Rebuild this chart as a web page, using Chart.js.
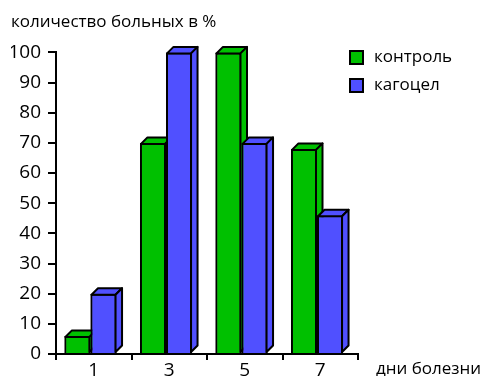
<!DOCTYPE html>
<html>
<head>
<meta charset="utf-8">
<script src="https://cdn.jsdelivr.net/npm/chart.js@4"></script>
<style>
  html, body { margin: 0; padding: 0; background: #fff; }
  #wrap { width: 486px; height: 376px; }
</style>
</head>
<body>
<div id="wrap"><canvas id="c" width="486" height="376"></canvas></div>
<script>
// data
const days = ['1', '3', '5', '7'];
const control = [6, 70, 100, 68];
const kagocel = [20, 100, 70, 46];
const seriesNames = ['контроль', 'кагоцел'];
const yTitle = 'количество больных в %';
const xTitle = 'дни болезни';

const FONT = 'Open Sans';
const DX = 6.5, DY = 6.5; // 3d depth

// shift bars left by half depth, then redraw each series with top + side faces
const bars3d = {
  id: 'bars3d',
  afterDatasetsUpdate(chart) {
    chart.data.datasets.forEach((ds, i) => {
      chart.getDatasetMeta(i).data.forEach(el => { el.x -= DX / 2; });
    });
  },
  afterDatasetsDraw(chart) {
    const ctx = chart.ctx;
    chart.data.datasets.forEach((ds, i) => {
      const meta = chart.getDatasetMeta(i);
      meta.data.forEach(el => {
        el.draw(ctx);
        const l = el.x - el.width / 2 + 1, r = el.x + el.width / 2 - 1;
        const t = el.y + 1, b = el.base - 1;
        ctx.save();
        ctx.lineWidth = 2;
        ctx.strokeStyle = '#000';
        ctx.lineJoin = 'round';
        ctx.fillStyle = ds.backgroundColor;
        ctx.beginPath();
        ctx.moveTo(l, t); ctx.lineTo(l + DX, t - DY); ctx.lineTo(r + DX, t - DY); ctx.lineTo(r, t);
        ctx.closePath(); ctx.fill(); ctx.stroke();
        ctx.beginPath();
        ctx.moveTo(r, t); ctx.lineTo(r + DX, t - DY); ctx.lineTo(r + DX, b - DY); ctx.lineTo(r, b);
        ctx.closePath(); ctx.fill(); ctx.stroke();
        ctx.restore();
      });
    });
  },
  afterDraw(chart) {
    const ctx = chart.ctx;
    const area = chart.chartArea;
    ctx.save();
    ctx.font = '17px "' + FONT + '"';
    ctx.textBaseline = 'middle';
    // legend
    chart.data.datasets.forEach((ds, i) => {
      const y = 50 + i * 28;
      ctx.fillStyle = ds.backgroundColor;
      ctx.fillRect(349, y, 15, 15);
      ctx.lineWidth = 2;
      ctx.strokeStyle = '#000';
      ctx.strokeRect(350, y + 1, 13, 13);
      ctx.fillStyle = '#000';
      ctx.fillText(ds.label, 374, y + 7);
    });
    // x axis title
    ctx.fillText(xTitle, area.right + 18, 369);
    ctx.restore();
  }
};

new Chart(document.getElementById('c'), {
  type: 'bar',
  data: {
    labels: days,
    datasets: [
      { label: seriesNames[0], data: control, backgroundColor: '#00c000', borderColor: '#000', borderWidth: 2 },
      { label: seriesNames[1], data: kagocel, backgroundColor: '#5050ff', borderColor: '#000', borderWidth: 2 }
    ]
  },
  options: {
    responsive: false,
    animation: false,
    categoryPercentage: 0.69,
    barPercentage: 1,
    layout: { padding: { left: 11, right: 128, top: 0, bottom: 0 } },
    plugins: {
      legend: { display: false },
      tooltip: { enabled: false },
      title: { display: true, text: yTitle, align: 'start', color: '#000', font: { family: FONT, size: 17, weight: 'normal' }, padding: { top: 12, bottom: 20 } }
    },
    scales: {
      x: {
        afterFit: s => { s.height = 22; },
        border: { color: '#000', width: 2 },
        grid: { drawOnChartArea: false, drawTicks: true, tickLength: 6, color: '#000', lineWidth: 2 },
        ticks: { color: '#000', padding: 3, font: { family: FONT, size: 19, lineHeight: 0.8 } }
      },
      y: {
        min: 0, max: 100,
        afterFit: s => { s.width = 45; },
        border: { color: '#000', width: 2 },
        grid: { drawOnChartArea: false, drawTicks: true, tickLength: 8, color: '#000', lineWidth: 2 },
        ticks: { stepSize: 10, color: '#000', padding: 7, font: { family: FONT, size: 19 } }
      }
    }
  },
  plugins: [bars3d]
});
</script>
</body>
</html>
